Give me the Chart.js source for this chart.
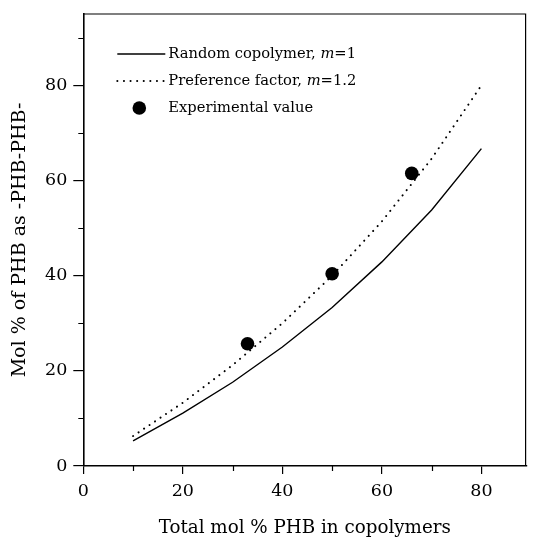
<!DOCTYPE html>
<html>
<head>
<meta charset="utf-8">
<script src="https://cdn.jsdelivr.net/npm/chart.js@4.4.1/dist/chart.umd.min.js"></script>
<style>
  html, body { margin: 0; padding: 0; background: #fff; overflow: hidden; }
  #wrap { width: 533px; height: 537px; position: relative; }
  #chart { display: block; }
</style>
</head>
<body>
<div id="wrap"><canvas id="chart" width="533" height="537"></canvas></div>
<script>
// values
const totalPHB = [10, 20, 30, 40, 50, 60, 70, 80];
const randomCopolymer = [5.3, 11.1, 17.6, 25.0, 33.3, 42.9, 53.8, 66.7];
const preferenceFactor = [6.3, 13.3, 21.2, 30.0, 40.0, 51.4, 64.6, 80.0];
const expX = [33, 50, 66];
const expY = [25.7, 40.4, 61.5];
const xTicks = [0, 20, 40, 60, 80];
const yTicks = [0, 20, 40, 60, 80];
const xMinor = [10, 30, 50, 70];
const yMinor = [10, 30, 50, 70, 90];

const serif = "'DejaVu Serif', 'Liberation Serif', serif";

const toPoints = (xs, ys) => xs.map((x, i) => ({ x: x, y: ys[i] }));

// box around the plot, minor ticks, legend inside the plot area
const framePlugin = {
  id: "frame",
  afterDraw(chart) {
    const { ctx, chartArea, scales } = chart;
    ctx.save();
    ctx.strokeStyle = "#000";
    ctx.lineWidth = 1.2;
    ctx.beginPath();
    ctx.moveTo(chartArea.left, chartArea.top);
    ctx.lineTo(chartArea.right - 0.6, chartArea.top);
    ctx.lineTo(chartArea.right - 0.6, chartArea.bottom);
    ctx.stroke();

    // short minor ticks
    ctx.lineWidth = 1.2;
    ctx.beginPath();
    xMinor.forEach(v => {
      const px = Math.round(scales.x.getPixelForValue(v)) + 0.5;
      ctx.moveTo(px, chartArea.bottom);
      ctx.lineTo(px, chartArea.bottom + 5);
    });
    yMinor.forEach(v => {
      const py = Math.round(scales.y.getPixelForValue(v)) + 0.5;
      ctx.moveTo(chartArea.left, py);
      ctx.lineTo(chartArea.left - 5, py);
    });
    ctx.stroke();

    // legend
    const x0 = chartArea.left + 34;
    const y0 = chartArea.top + 40;
    const rowH = 27;
    chart.data.datasets.forEach((ds, i) => {
      const y = y0 + i * rowH;
      ctx.strokeStyle = "#000";
      ctx.fillStyle = "#000";
      if (ds.showLine) {
        ctx.lineWidth = ds.borderWidth;
        ctx.setLineDash(ds.borderDash || []);
        ctx.lineCap = ds.borderCapStyle || "butt";
        ctx.beginPath();
        ctx.moveTo(x0, y);
        ctx.lineTo(x0 + 48, y);
        ctx.stroke();
        ctx.setLineDash([]);
      } else {
        ctx.beginPath();
        ctx.arc(x0 + 22, y, ds.pointRadius, 0, Math.PI * 2);
        ctx.fill();
      }
      // label, with m in italics
      let tx = x0 + 51;
      ctx.textBaseline = "middle";
      ds.label.split(/(\bm(?==))/).forEach(part => {
        if (!part) return;
        ctx.font = (part === "m" ? "italic " : "") + "14.7px " + serif;
        ctx.fillText(part, tx, y);
        tx += ctx.measureText(part).width;
      });
    });
    ctx.restore();
  }
};

new Chart(document.getElementById("chart"), {
  type: "scatter",
  data: {
    datasets: [
      {
        label: "Random copolymer, m=1",
        data: toPoints(totalPHB, randomCopolymer),
        showLine: true,
        borderColor: "#000",
        borderWidth: 1.4,
        pointRadius: 0,
        tension: 0
      },
      {
        label: "Preference factor, m=1.2",
        data: toPoints(totalPHB, preferenceFactor),
        showLine: true,
        borderColor: "#000",
        borderWidth: 2,
        borderDash: [0.1, 6.5],
        borderCapStyle: "round",
        pointRadius: 0,
        tension: 0
      },
      {
        label: "Experimental value",
        data: toPoints(expX, expY),
        showLine: false,
        backgroundColor: "#000",
        borderColor: "#000",
        pointRadius: 6.8,
        pointBorderWidth: 0
      }
    ]
  },
  options: {
    responsive: true,
    maintainAspectRatio: false,
    animation: false,
    layout: { padding: { top: 14, right: 0, left: 4, bottom: 0 } },
    plugins: {
      legend: { display: false },
      tooltip: { enabled: false }
    },
    scales: {
      x: {
        type: "linear",
        min: 0,
        max: 89,
        afterBuildTicks: s => { s.ticks = xTicks.map(v => ({ value: v })); },
        afterFit: s => { s.height = 71; s.paddingLeft = 0; s.paddingRight = 0; },
        grid: { drawOnChartArea: false, color: "#000", tickLength: 8, lineWidth: 1.2 },
        border: { color: "#000", width: 1.6 },
        ticks: {
          color: "#000",
          padding: 7,
          maxRotation: 0,
          font: { family: serif, size: 17.5 }
        },
        title: {
          display: true,
          text: "Total mol % PHB in copolymers",
          color: "#000",
          font: { family: serif, size: 18.3, lineHeight: 1 },
          padding: { top: 16.5, bottom: 0 }
        }
      },
      y: {
        type: "linear",
        min: 0,
        max: 95,
        afterBuildTicks: s => { s.ticks = yTicks.map(v => ({ value: v })); },
        afterFit: s => { s.width = 79.3; s.paddingTop = 0; s.paddingBottom = 0; },
        grid: { drawOnChartArea: false, color: "#000", tickLength: 10, lineWidth: 1.2 },
        border: { color: "#000", width: 1.6 },
        ticks: {
          color: "#000",
          padding: 6,
          font: { family: serif, size: 17.5 }
        },
        title: {
          display: true,
          text: "Mol % of PHB as -PHB-PHB-",
          color: "#000",
          font: { family: serif, size: 19, lineHeight: 1 },
          padding: { top: 6.5, bottom: 20 }
        }
      }
    }
  },
  plugins: [framePlugin]
});
</script>
</body>
</html>
